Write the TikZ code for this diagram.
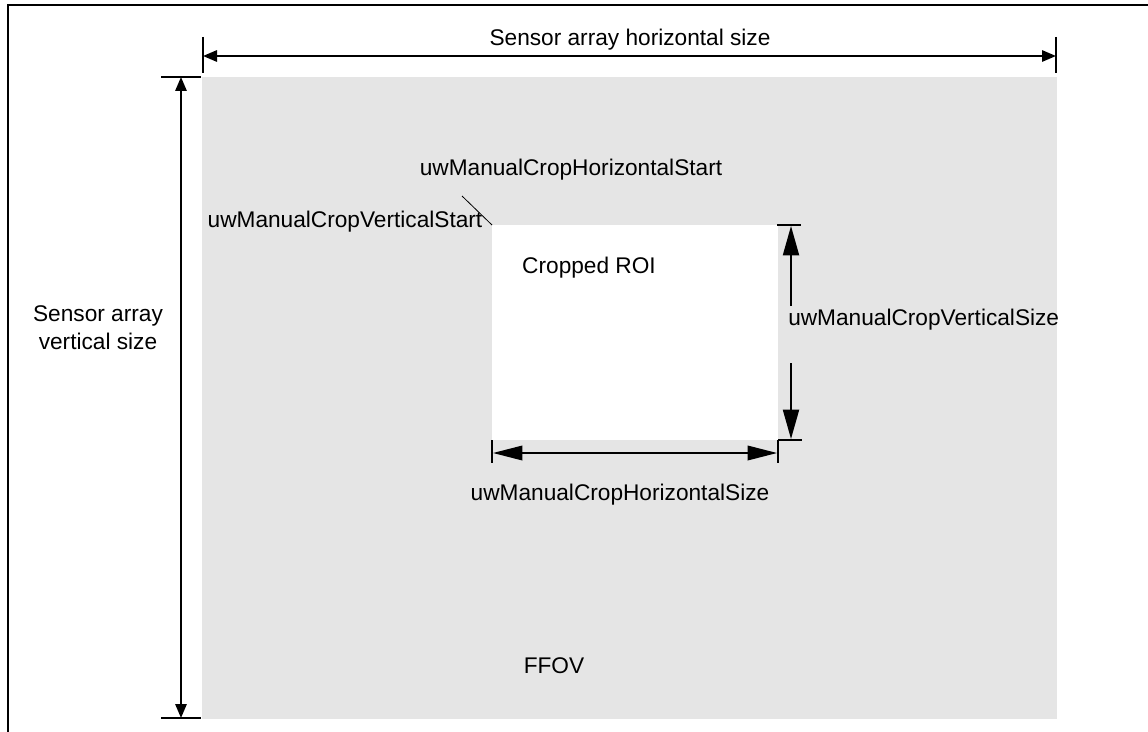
\documentclass[tikz,border=0pt]{standalone}
\usepackage{fontspec}
\setmainfont{Liberation Sans}
\usetikzlibrary{arrows.meta,calc}
\definecolor{ffovgray}{HTML}{E5E5E5}
\tikzset{
  lbl/.style={inner sep=0pt, font=\fontsize{17}{21}\selectfont, align=center},
  dim/.style={line width=1.5pt, -{Triangle[length=10.5pt,width=8.5pt]}},
  dimin/.style={line width=1.5pt, -{Triangle[length=22pt,width=12pt]}},
  tick/.style={line width=1.5pt},
}
\begin{document}
\begin{tikzpicture}[x=0.75pt,y=-0.75pt]
\useasboundingbox (0,0) rectangle (1148,731);
% frame
\draw[line width=1.5pt] (8,740) -- (8,5) -- (1160,5);
% FFOV area
\node[fill=ffovgray, inner sep=0pt, minimum width=855*0.75pt, minimum height=642*0.75pt, anchor=north west] (ffov) at (202,77) {};
% ROI
\node[fill=white, inner sep=0pt, minimum width=286*0.75pt, minimum height=215*0.75pt, anchor=north west] (roi) at (492,225) {};
% top dimension
\coordinate (tl) at (203,56);
\coordinate (tr) at (1056,56);
\coordinate (tm) at (630,56);
\draw[tick] (203,37) -- (203,73);
\draw[tick] (1056,37) -- (1056,73);
\draw[dim] (tm) -- (tl);
\draw[dim] (tm) -- (tr);
\node[lbl] (hsize) at (630,40) {Sensor array horizontal size};
% left dimension
\coordinate (vt) at (181,77);
\coordinate (vb) at (181,718);
\coordinate (vm) at (181,400);
\draw[tick] (161,77) -- (201,77);
\draw[tick] (161,718) -- (201,718);
\draw[dim] (vm) -- (vt);
\draw[dim] (vm) -- (vb);
\node[lbl] (vsize) at (98,328) {Sensor array\\vertical size};
% start labels
\node[lbl] (hstart) at (571,170) {uwManualCropHorizontalStart};
\node[lbl] (vstart) at (345,222) {uwManualCropVerticalStart};
\coordinate (lead) at (462,196);
\draw[line width=0.6pt] (lead) -- (roi.north west);
\node[lbl] (croi) at (589,268) {Cropped ROI};
% vertical crop size
\node[lbl, anchor=west] (cvs) at (788,320) {uwManualCropVerticalSize};
\draw[tick] (777,225) -- (801,225);
\draw[tick] (778,440) -- (802,440) ;
\draw[tick] (778,440) -- (778,463);
\coordinate (a1) at (791,306);
\coordinate (a1e) at (791,226);
\coordinate (a2) at (791,363);
\coordinate (a2e) at (791,439);
\draw[dimin] (a1) -- (a1e);
\draw[dimin] (a2) -- (a2e);
% horizontal crop size
\coordinate (h1) at (493,453);
\coordinate (h2) at (777,453);
\draw[tick] (492,440) -- (492,463);
\draw[line width=1pt, {Triangle[length=22pt,width=11pt]}-{Triangle[length=22pt,width=11pt]}] (h1) -- (h2);
\node[lbl] (chs) at (620,495) {uwManualCropHorizontalSize};
\node[lbl] (ffovl) at (554,666) {FFOV};
\end{tikzpicture}
\end{document}
